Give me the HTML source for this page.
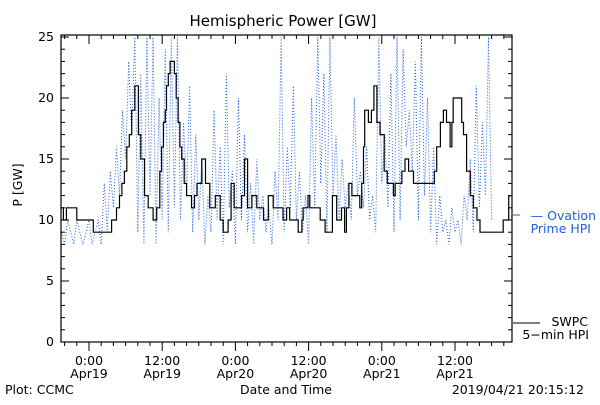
<!DOCTYPE html>
<html><head><meta charset="utf-8"><style>
body{margin:0;background:#fff}
svg text{font-family:"DejaVu Sans","Liberation Sans",sans-serif;font-size:12.5px}
</style></head><body>
<svg id="chart" width="600" height="400" xmlns="http://www.w3.org/2000/svg">
<text x="283" y="26" text-anchor="middle" style="font-size:15px">Hemispheric Power [GW]</text>
<text transform="translate(22,185) rotate(-90)" text-anchor="middle">P [GW]</text>
<text x="286" y="394" text-anchor="middle">Date and Time</text>
<text x="5" y="394">Plot: CCMC</text>
<text x="584" y="394" text-anchor="end">2019/04/21 20:15:12</text>
<g id="marks"></g>
<g>
<line x1="513" y1="215" x2="520" y2="215" stroke="#1f5fe0"/>
<text x="596" y="220" text-anchor="end" fill="#1f5fe0">— Ovation</text>
<text x="591" y="233" text-anchor="end" fill="#1f5fe0">Prime HPI</text>
<line x1="513" y1="323" x2="540" y2="323" stroke="#000"/>
<text x="588" y="326" text-anchor="end">SWPC</text>
<text x="589" y="339" text-anchor="end">5−min HPI</text>
</g>
</svg>
<script>
const yTicks=[0,5,10,15,20,25];
const xTickHours=[0,12,24,36,48,60];
const xTickTimes=["0:00","12:00","0:00","12:00","0:00","12:00"];
const xTickDays=["Apr19","Apr19","Apr20","Apr20","Apr21","Apr21"];
const swpcHours=[-4.6,-4.2,-3.7,-2.0,0.7,3.7,4.5,5.0,5.4,5.8,6.2,6.6,7.0,7.5,8.1,8.5,9.1,9.7,10.5,11.1,11.6,11.9,12.2,12.5,12.7,13.0,13.3,14.0,14.3,14.6,14.9,15.2,15.6,16.0,16.8,17.3,17.7,18.5,19.1,19.8,20.7,21.5,22.0,22.8,23.3,23.8,25.0,25.5,26.0,26.7,27.5,28.6,29.4,30.2,31.3,31.8,32.4,32.9,34.3,34.9,35.1,35.9,36.2,37.9,38.7,39.9,40.6,41.4,41.9,42.2,42.6,43.1,44.4,44.7,45.0,45.2,45.8,46.3,46.7,47.2,47.7,48.4,48.9,49.9,50.2,51.3,51.8,52.4,53.2,56.6,57.0,57.6,58.1,58.6,59.2,59.5,59.7,60.8,61.1,61.4,61.9,62.5,63.0,63.6,64.1,67.9,68.8,69.4];
const swpcValues=[11,10,11,10,9,10,11,12,13,14,16,17,19,21,17,15,12,11,10,11,14,16,18,19,21,22,23,22,20,18,16,15,13,12,11,12,13,15,13,11,12,10,9,10,13,11,12,15,11,12,11,10,12,11,11,10,11,10,9,10,11,12,11,10,9,12,10,11,9,11,13,12,11,13,16,19,18,19,21,18,17,14,13,12,13,14,15,14,13,14,16,18,19,18,16,18,20,20,18,17,14,12,11,10,9,10,12,13];
const ovStart=-4.5, ovStep=0.5;
const ovValues=[9,8,10,9,8,10,9,8,9,10,8,9,10,8,13,9,14,11,16,12,19,15,23,17,25,9,22,8,25,12,25,8,20,10,24,9,25,11,25,10,18,12,21,9,17,10,15,8,12,9,19,10,16,8,22,11,14,8,20,10,17,9,13,8,15,10,12,9,11,8,14,10,25,9,16,11,21,10,14,9,12,8,20,11,25,13,22,9,25,12,17,10,15,11,13,10,20,12,14,11,16,10,12,9,25,13,17,11,22,9,25,10,24,16,19,14,23,10,25,12,20,9,16,8,12,9,10,8,11,9,10,8,12,10,15,9,21,11,18,12,25,10];
const L=61,R=512,T=35,B=342;
const xs=h=>89+h*6.1;
const ys=v=>B-12.2*v;
const NS="http://www.w3.org/2000/svg";
const g=document.getElementById('marks');
function mk(tag,attrs){const e=document.createElementNS(NS,tag);for(const k in attrs)e.setAttribute(k,attrs[k]);g.appendChild(e);return e;}
const defs=document.createElementNS(NS,'defs');
defs.innerHTML='<clipPath id="pc"><rect x="'+L+'" y="'+T+'" width="'+(R-L)+'" height="'+(B-T)+'"/></clipPath>';
g.appendChild(defs);
let d='';
ovValues.forEach((v,i)=>{const h=ovStart+i*ovStep;d+=(i?'L':'M')+xs(h).toFixed(1)+' '+ys(v).toFixed(1)+' ';});
const ov=mk('path',{d:d,fill:'none',stroke:'#1f5fe0','stroke-width':1,'stroke-dasharray':'1,2','clip-path':'url(#pc)'});


let d2='';
swpcHours.forEach((h,i)=>{const x=xs(h).toFixed(1),y=ys(swpcValues[i]).toFixed(1);
 if(i===0)d2+='M'+x+' '+y+' ';else d2+='H'+x+' V'+y+' ';});
const sw=mk('path',{d:d2,fill:'none',stroke:'#000','stroke-width':1.2,'clip-path':'url(#pc)'});


const fr=mk('rect',{x:L,y:T,width:R-L,height:B-T,fill:'none',stroke:'#000','stroke-width':1.2});


for(let v=0;v<=25;v++){const y=ys(v);const len=v%5===0?8:4;
 const t=mk('line',{x1:L,y1:y,x2:L+len,y2:y,stroke:'#000'});
 
 
 const t2=mk('line',{x1:R,y1:y,x2:R-len,y2:y,stroke:'#000'});
 
 }
yTicks.forEach(v=>{const t=mk('text',{x:L-7,y:ys(v)+4,'text-anchor':'end'});t.textContent=v;
 
 });
for(let h=-4;h<=68;h+=2){const x=xs(h);const len=h%12===0?9:4;
 const t=mk('line',{x1:x,y1:B,x2:x,y2:B+len,stroke:'#000'});
 
 
 const t2=mk('line',{x1:x,y1:T,x2:x,y2:T+len,stroke:'#000'});
 
 }
xTickHours.forEach((h,i)=>{const x=xs(h);
 const a=mk('text',{x:x,y:365,'text-anchor':'middle'});a.textContent=xTickTimes[i];
 
 
 const b=mk('text',{x:x,y:378,'text-anchor':'middle'});b.textContent=xTickDays[i];
 
 });
</script>
</body></html>
